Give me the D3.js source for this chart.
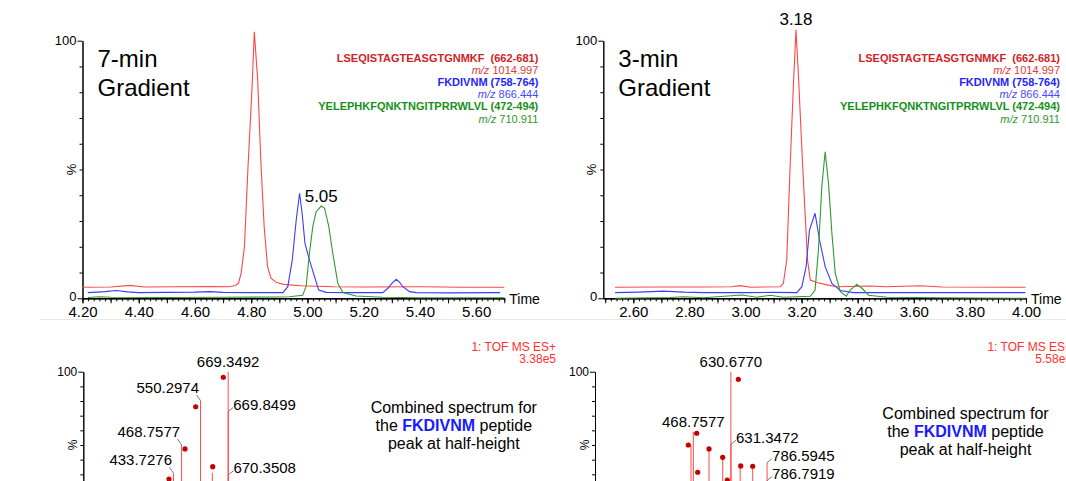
<!DOCTYPE html>
<html>
<head>
<meta charset="utf-8">
<script src="https://cdn.jsdelivr.net/npm/d3@7"></script>
<style>
  body { margin: 0; background: #fff; }
  svg { display: block; font-family: "Liberation Sans", Arial, sans-serif; }
</style>
</head>
<body>
<svg id="chart" width="1066" height="481"></svg>
<script>
// ---- chromatogram traces, [time (min), % intensity] ----
let g7Red = [[4.20,4.3],[4.30,4.4],[4.37,5.0],[4.42,4.4],[4.55,4.5],[4.66,4.6],[4.72,4.5],[4.745,5.0],[4.755,6.0],[4.764,9.7],[4.776,20],[4.788,49.8],[4.803,82],[4.811,103.5],[4.823,84.7],[4.834,53.7],[4.846,27.8],[4.858,12.3],[4.870,7.8],[4.891,6.1],[4.915,5.4],[4.977,4.9],[5.095,4.5],[5.20,4.4],[5.40,4.5],[5.55,4.3],[5.70,4.3]];
let g7Blue = [[4.219,2.2],[4.28,2.6],[4.32,3.0],[4.36,2.5],[4.40,2.2],[4.50,2.3],[4.60,2.4],[4.652,2.6],[4.70,2.3],[4.80,2.2],[4.913,2.2],[4.930,4.5],[4.946,14.9],[4.960,30.4],[4.972,40.8],[4.981,33],[4.991,21.4],[5.007,14.9],[5.025,8.4],[5.040,3.2],[5.067,2.3],[5.15,2.2],[5.268,2.2],[5.286,3.9],[5.302,6.0],[5.316,7.4],[5.328,6.2],[5.339,4.5],[5.363,2.6],[5.387,2.2],[5.50,2.1],[5.685,2.2]];
let g7Green = [[4.219,0.3],[4.26,0.6],[4.30,0.4],[4.50,0.3],[4.70,0.4],[4.90,0.5],[4.936,0.6],[4.983,1.2],[4.995,4.5],[5.007,17.5],[5.019,27.8],[5.031,33.6],[5.049,35.8],[5.061,34.9],[5.076,27.8],[5.090,17.5],[5.108,5.8],[5.126,2.2],[5.173,0.9],[5.268,0.4],[5.40,0.2],[5.70,0.2]];

let g3Red = [[2.535,4.3],[2.70,4.4],[2.85,4.4],[2.95,4.5],[2.981,4.9],[3.017,4.3],[3.124,4.5],[3.135,5.8],[3.147,14.9],[3.159,51],[3.171,83.5],[3.180,104.2],[3.189,86],[3.201,57.6],[3.213,31.7],[3.221,14.9],[3.231,7.1],[3.255,6.1],[3.290,5.2],[3.326,4.5],[3.445,4.8],[3.50,4.5],[3.623,4.9],[3.70,4.4],[3.998,4.3]];
let g3Blue = [[2.535,2.2],[2.62,2.4],[2.707,2.8],[2.78,2.4],[2.850,2.2],[3.00,2.2],[3.10,2.3],[3.183,2.2],[3.201,4.5],[3.216,12.3],[3.228,26.5],[3.248,33],[3.264,22.6],[3.284,12.3],[3.308,5.8],[3.338,3.0],[3.385,2.2],[3.60,2.2],[3.998,2.2]];
let g3Green = [[2.535,0],[2.731,0.3],[2.78,0.6],[2.85,0.2],[2.987,1.3],[3.040,0.4],[3.088,1.2],[3.135,0.4],[3.231,0.8],[3.248,3.2],[3.260,18.8],[3.272,43.3],[3.284,56.9],[3.296,44.6],[3.308,25.2],[3.320,9.7],[3.338,2.6],[3.359,0.8],[3.373,3.2],[3.397,5.4],[3.415,3.9],[3.439,1.2],[3.504,0.4],[3.70,0.2],[3.998,0]];

let g7Ticks = [4.20, 4.40, 4.60, 4.80, 5.00, 5.20, 5.40, 5.60];
let g3Ticks = [2.60, 2.80, 3.00, 3.20, 3.40, 3.60, 3.80, 4.00];

let peptides = ['LSEQISTAGTEASGTGNMKF  (662-681)', 'FKDIVNM (758-764)', 'YELEPHKFQNKTNGITPRRWLVL (472-494)'];
let peptideMz = ['1014.997', '866.444', '710.911'];

// ---- combined spectra, [m/z, % intensity] ----
let s7Sticks = [[433.7276,30.7],[468.7577,50],[550.2974,80.2],[601.0,31.1],[669.3492,100],[669.8499,72.9],[670.3508,29.7]];
let s7Dots = [[414.4,26.8],[483.4,47.3],[529.5,76.1],[602.8,35.2],[648.4,96.2]];
let s7Labels = ['433.7276', '468.7577', '550.2974', '669.3492', '669.8499', '670.3508'];

let s3Sticks = [[458.8,50],[468.7577,59],[536.4,47.3],[595.4,41],[630.677,100],[631.3472,50.5],[670.6,35.2],[724.7,34.8],[786.5945,38],[786.7919,25.8]];
let s3Dots = [[447.2,50],[483.4,58],[487.7,31.4],[536.4,47.3],[595.4,41.6],[615.3,26.1],[662.7,94.8],[673.0,35.7],[724.7,35.5]];
let s3Labels = ['468.7577', '630.6770', '631.3472', '786.5945', '786.7919'];

let svg = d3.select('#chart');
let colors = { red: '#ff4646', blue: '#3c3cff', green: '#2f9a2f' };
let legendColors = [['#d01f26', '#e03a3a'], ['#1f1fff', '#4848ff'], ['#17901a', '#2e962e']];

// faint divider under the chromatograms
svg.append('line')
    .attr('x1', 40).attr('x2', 1066).attr('y1', 319.5).attr('y2', 319.5)
    .attr('stroke', '#e8e8e8');

let drawChrom = (p) => {
    let x = d3.scaleLinear().domain(p.domain).range([p.left, p.right]);
    let y = d3.scaleLinear().domain([0, 100]).range([298.3, 40.7]);
    let g = svg.append('g');

    // minor ticks every 0.02, medium every 0.1
    let minor = d3.range(Math.ceil(p.domain[0] / 0.02), Math.floor(p.domain[1] / 0.02 + 1e-6) + 1).map(i => i * 0.02);
    let mid = minor.filter(t => Math.abs(Math.round(t * 10) - t * 10) < 1e-6);
    g.append('g').attr('transform', `translate(0,${y(0)})`)
        .call(d3.axisBottom(x).tickValues(minor).tickSize(3).tickSizeOuter(0).tickFormat(''));
    g.append('g').attr('transform', `translate(0,${y(0)})`)
        .call(d3.axisBottom(x).tickValues(mid).tickSize(5).tickSizeOuter(0).tickFormat(''));
    let xa = g.append('g').attr('transform', `translate(0,${y(0)})`)
        .call(d3.axisBottom(x).tickValues(p.ticks).tickSize(5).tickSizeOuter(0).tickFormat(d3.format('.2f')));
    xa.attr('font-size', 15).attr('font-family', null);

    g.append('g').attr('transform', `translate(${p.left},0)`)
        .call(d3.axisLeft(y).tickValues(d3.range(10, 100, 10)).tickSize(3).tickSizeOuter(0).tickFormat(''));
    let ya = g.append('g').attr('transform', `translate(${p.left},0)`)
        .call(d3.axisLeft(y).tickValues([0, 100]).tickSize(5).tickPadding(1).tickSizeOuter(0));
    ya.attr('font-size', 13).attr('font-family', null);
    ya.selectAll('.tick text').attr('dy', d => (d === 0 ? '0.2em' : '0.32em'));
    g.selectAll('.domain').attr('stroke', '#000');

    g.append('text')
        .attr('transform', `translate(${p.left - 7},${y(50)}) rotate(-90)`)
        .attr('text-anchor', 'middle').attr('font-size', 13)
        .text('%');

    g.append('text')
        .attr('x', p.right + 5).attr('y', y(0) + 6)
        .attr('font-size', 14)
        .text('Time');

    let line = d3.line().x(d => x(d[0])).y(d => y(d[1]));
    p.series.forEach((s) => {
        g.append('path')
            .datum(s.data)
            .attr('d', line)
            .attr('fill', 'none')
            .attr('stroke', colors[s.color])
            .attr('stroke-width', 1.1);
    });

    // retention time over the chosen peak
    let peakSeries = p.series.find(s => s.color === p.peak.color).data;
    let top = peakSeries.reduce((a, b) => (b[1] > a[1] ? b : a));
    g.append('text')
        .attr('x', x(top[0])).attr('y', y(top[1]) - 4.5)
        .attr('text-anchor', 'middle').attr('font-size', 17)
        .text(p.peak.text);

    // gradient title
    g.append('text').attr('x', p.left + 15).attr('y', 67).attr('font-size', 24).text(p.title[0]);
    g.append('text').attr('x', p.left + 15).attr('y', 95.5).attr('font-size', 24).text(p.title[1]);

    // peptide legend
    peptides.forEach((name, i) => {
        g.append('text')
            .attr('x', p.right + 34).attr('y', 61.5 + i * 24.4)
            .attr('text-anchor', 'end').attr('font-size', 11).attr('font-weight', 'bold')
            .style('white-space', 'pre')
            .attr('fill', legendColors[i][0])
            .text(name);
        let t = g.append('text')
            .attr('x', p.right + 34).attr('y', 73.7 + i * 24.4)
            .attr('text-anchor', 'end').attr('font-size', 11)
            .attr('fill', legendColors[i][1]);
        t.append('tspan').attr('font-style', 'italic').text('m/z');
        t.append('tspan').text(' ' + peptideMz[i]);
    });
};

let drawSpec = (p) => {
    let x = d3.scaleLinear().domain([45, 2000]).range([p.left, p.left + 453.6]);
    let y = d3.scaleLinear().domain([0, 100]).range([518.3, 371.7]);
    let g = svg.append('g');

    g.append('g').attr('transform', `translate(${p.left},0)`)
        .call(d3.axisLeft(y).tickValues(d3.range(10, 100, 10)).tickSize(3).tickSizeOuter(0).tickFormat(''));
    let ya = g.append('g').attr('transform', `translate(${p.left},0)`)
        .call(d3.axisLeft(y).tickValues([100]).tickSize(5).tickPadding(1).tickSizeOuter(0));
    ya.attr('font-size', 12).attr('font-family', null);
    g.selectAll('.domain').attr('stroke', '#000');

    g.append('text')
        .attr('transform', `translate(${p.left - 6},${y(50)}) rotate(-90)`)
        .attr('text-anchor', 'middle').attr('font-size', 12)
        .text('%');

    g.selectAll('line.stick')
        .data(p.sticks)
        .enter()
        .append('line')
        .attr('class', 'stick')
        .attr('x1', d => x(d[0])).attr('x2', d => x(d[0]))
        .attr('y1', y(0)).attr('y2', d => y(d[1]))
        .attr('stroke', '#ff4a4a').attr('stroke-width', 1);

    g.selectAll('circle')
        .data(p.dots)
        .enter()
        .append('circle')
        .attr('cx', d => x(d[0])).attr('cy', d => y(d[1]))
        .attr('r', 2.6)
        .attr('fill', '#c40000');

    p.labels.forEach((lab) => {
        let mz = +lab;
        let stick = p.sticks.find(s => Math.abs(s[0] - mz) < 0.001);
        let sx = x(stick[0]);
        let sy = y(stick[1]);
        let side = p.sides[lab];
        if (side === 'top') {
            g.append('text').attr('x', sx).attr('y', sy - 4.5)
                .attr('text-anchor', 'middle').attr('font-size', 15).text(lab);
        } else if (side === 'left') {
            g.append('line').attr('x1', sx - 4).attr('y1', sy - 6).attr('x2', sx).attr('y2', sy)
                .attr('stroke', '#555').attr('stroke-width', 0.8);
            g.append('text').attr('x', sx - 1.5).attr('y', sy - 8)
                .attr('text-anchor', 'end').attr('font-size', 15).text(lab);
        } else {
            g.append('line').attr('x1', sx).attr('y1', sy).attr('x2', sx + 5).attr('y2', sy - 4)
                .attr('stroke', '#555').attr('stroke-width', 0.8);
            g.append('text').attr('x', sx + 5).attr('y', sy - 1.5)
                .attr('font-size', 15).text(lab);
        }
    });

    g.append('text').attr('x', p.tofX).attr('y', 350.7)
        .attr('text-anchor', 'end').attr('font-size', 12).attr('fill', '#ff3030')
        .text('1: TOF MS ES+');
    g.append('text').attr('x', p.tofX).attr('y', 363.3)
        .attr('text-anchor', 'end').attr('font-size', 12).attr('fill', '#ff3030')
        .text(p.tof);

    let cx = p.left + 370.5;
    g.append('text').attr('x', cx).attr('y', p.descY).attr('text-anchor', 'middle')
        .attr('font-size', 16).text('Combined spectrum for');
    let t2 = g.append('text').attr('x', cx).attr('y', p.descY + 18.2).attr('text-anchor', 'middle')
        .attr('font-size', 16);
    t2.append('tspan').text('the ');
    t2.append('tspan').attr('font-weight', 'bold').attr('fill', '#1a1aff').text('FKDIVNM');
    t2.append('tspan').text(' peptide');
    g.append('text').attr('x', cx).attr('y', p.descY + 36.4).attr('text-anchor', 'middle')
        .attr('font-size', 16).text('peak at half-height');
};

drawChrom({
    domain: [4.20, 5.70], left: 82.5, right: 504.3, ticks: g7Ticks,
    series: [{ color: 'red', data: g7Red }, { color: 'blue', data: g7Blue }, { color: 'green', data: g7Green }],
    peak: { color: 'green', text: '5.05' },
    title: ['7-min', 'Gradient']
});
drawChrom({
    domain: [2.493, 4.00], left: 603.3, right: 1026, ticks: g3Ticks,
    series: [{ color: 'red', data: g3Red }, { color: 'blue', data: g3Blue }, { color: 'green', data: g3Green }],
    peak: { color: 'red', text: '3.18' },
    title: ['3-min', 'Gradient']
});

drawSpec({
    left: 83.3, sticks: s7Sticks, dots: s7Dots, labels: s7Labels,
    sides: { '433.7276': 'left', '468.7577': 'left', '550.2974': 'left', '669.3492': 'top', '669.8499': 'right', '670.3508': 'right' },
    tofX: 556, tof: '3.38e5', descY: 413
});
drawSpec({
    left: 595, sticks: s3Sticks, dots: s3Dots, labels: s3Labels,
    sides: { '468.7577': 'top', '630.6770': 'top', '631.3472': 'right', '786.5945': 'right', '786.7919': 'right' },
    tofX: 1072, tof: '5.58e5', descY: 418.5
});
</script>
</body>
</html>
